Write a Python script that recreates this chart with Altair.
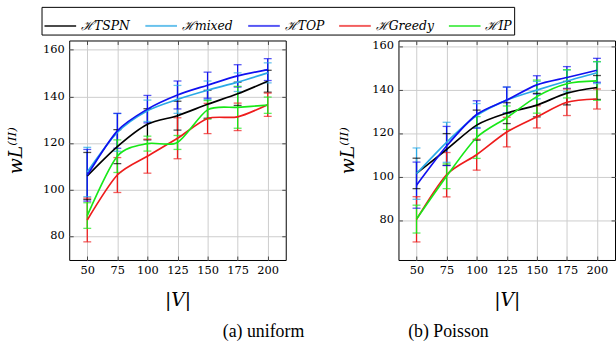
import altair as alt
import pandas as pd

X = [50, 75, 100, 125, 150, 175, 200]
SERIES = ["TSPN", "mixed", "TOP", "Greedy", "IP"]
LABELS = ["ℋTSPN", "ℋmixed", "ℋTOP", "ℋGreedy", "ℋIP"]
COLORS = ["#000000", "#2aa9e6", "#1010f0", "#ee1c1c", "#18e818"]
Y_TICKS = [80, 100, 120, 140, 160]

# (a) uniform: means and error half-widths
uniform_TSPN = [105.8, 118.4, 128.0, 131.7, 136.6, 141.1, 146.5]
uniform_TSPN_err = [10.1, 7.3, 6.7, 6.2, 6.0, 5.0, 4.7]
uniform_mixed = [107.5, 124.5, 133.8, 138.7, 142.6, 146.1, 150.1]
uniform_mixed_err = [10.6, 8.1, 4.6, 6.0, 4.0, 4.0, 4.3]
uniform_TOP = [106.1, 125.2, 134.5, 140.6, 144.8, 148.8, 151.5]
uniform_TOP_err = [11.1, 7.5, 5.9, 6.0, 5.6, 4.8, 4.7]
uniform_Greedy = [86.9, 106.2, 114.3, 122.0, 130.5, 131.2, 136.4]
uniform_Greedy_err = [9.4, 7.5, 7.3, 8.8, 6.5, 5.9, 5.0]
uniform_IP = [88.8, 114.3, 119.7, 120.2, 134.2, 135.3, 136.2]
uniform_IP_err = [5.5, 7.0, 3.2, 3.0, 4.0, 9.0, 3.5]

# (b) Poisson
poisson_TSPN = [101.4, 112.4, 123.6, 129.1, 132.8, 138.3, 140.9]
poisson_TSPN_err = [7.0, 7.3, 6.9, 4.8, 5.4, 5.4, 5.5]
poisson_mixed = [101.3, 115.7, 128.0, 135.1, 139.7, 143.9, 147.7]
poisson_mixed_err = [11.8, 9.2, 5.5, 6.0, 4.0, 5.0, 5.0]
poisson_TOP = [96.0, 114.0, 128.5, 135.1, 142.1, 145.5, 148.8]
poisson_TOP_err = [10.6, 9.0, 6.3, 6.0, 4.2, 5.0, 5.5]
poisson_Greedy = [80.3, 100.8, 110.0, 120.4, 127.4, 134.1, 135.6]
poisson_Greedy_err = [10.4, 10.2, 7.1, 6.8, 5.1, 6.1, 4.6]
poisson_IP = [80.4, 100.1, 117.9, 127.0, 136.7, 142.6, 143.9]
poisson_IP_err = [6.4, 5.7, 9.6, 5.4, 7.6, 6.5, 8.9]

uniform = {
    "TSPN": (uniform_TSPN, uniform_TSPN_err),
    "mixed": (uniform_mixed, uniform_mixed_err),
    "TOP": (uniform_TOP, uniform_TOP_err),
    "Greedy": (uniform_Greedy, uniform_Greedy_err),
    "IP": (uniform_IP, uniform_IP_err),
}
poisson = {
    "TSPN": (poisson_TSPN, poisson_TSPN_err),
    "mixed": (poisson_mixed, poisson_mixed_err),
    "TOP": (poisson_TOP, poisson_TOP_err),
    "Greedy": (poisson_Greedy, poisson_Greedy_err),
    "IP": (poisson_IP, poisson_IP_err),
}


def make_df(d):
    rows = []
    for i, s in enumerate(SERIES):
        vals, errs = d[s]
        for x, v, e in zip(X, vals, errs):
            rows.append({"x": x, "series": LABELS[i], "ord": i, "v": v,
                         "lo": v - e, "hi": v + e})
    return pd.DataFrame(rows)


color = alt.Color(
    "series:N",
    scale=alt.Scale(domain=LABELS, range=COLORS),
    legend=alt.Legend(
        title=None, orient="none", legendX=-28, legendY=-34,
        direction="horizontal", symbolType="stroke", symbolSize=1024,
        symbolStrokeWidth=2, labelFont="DejaVu Serif", labelFontStyle="italic",
        labelFontSize=12.5, labelOffset=4, columnPadding=11,
        strokeColor="#000000", padding=2, cornerRadius=0,
    ),
)

YTITLE = "wL⁽ᴵᴵ⁾"


def panel(df, ydom, title_x, caption, cap_dx):
    xs = alt.Scale(domain=[35, 215], nice=False, zero=False)
    ys = alt.Scale(domain=ydom, nice=False, zero=False)
    base = alt.Chart(df)
    xax = alt.Axis(values=X, title="|V|", grid=True, offset=-4, tickSize=4,
                   domain=False, labelPadding=5, titleY=44, titleBaseline="middle",
                   titleFont="DejaVu Serif", titleFontSize=19, titleFontWeight="normal",
                   titleFontStyle="italic", titleColor="#000000")
    yax = alt.Axis(values=Y_TICKS, title=YTITLE, grid=True, offset=-4, tickSize=4,
                   domain=False, labelPadding=5, titleX=title_x, titleY=111,
                   titleAngle=-90, titleBaseline="middle", titleAlign="center",
                   titleFont="DejaVu Serif", titleFontSize=19, titleFontWeight="normal",
                   titleFontStyle="italic", titleColor="#000000")
    xtop = alt.Axis(values=X, title=None, labels=False, grid=False, orient="top",
                    offset=-4, tickSize=4, domain=False)
    yright = alt.Axis(values=Y_TICKS, title=None, labels=False, grid=False,
                      orient="right", offset=-4, tickSize=4, domain=False)

    rules = base.mark_rule(strokeWidth=1.3).encode(
        x=alt.X("x:Q", scale=xs, axis=xax),
        y=alt.Y("lo:Q", scale=ys, axis=yax),
        y2="hi:Q",
        color=color,
    )
    cap_lo = base.mark_tick(orient="horizontal", size=8, thickness=1.3).encode(
        x=alt.X("x:Q", axis=None), y=alt.Y("lo:Q", axis=None), color=color)
    cap_hi = base.mark_tick(orient="horizontal", size=8, thickness=1.3).encode(
        x=alt.X("x:Q", axis=None), y=alt.Y("hi:Q", axis=None), color=color)
    lines = base.mark_line(interpolate="cardinal", tension=0.2, strokeWidth=1.7).encode(
        x=alt.X("x:Q", axis=None), y=alt.Y("v:Q", axis=None), color=color,
        order="x:Q")
    mirror = base.mark_point(opacity=0).encode(
        x=alt.X("x:Q", axis=xtop), y=alt.Y("v:Q", axis=yright))
    return alt.layer(rules, cap_lo, cap_hi, lines, mirror).resolve_axis(
        x="independent", y="independent"
    ).properties(
        width=219, height=222,
        title=alt.TitleParams(caption, orient="bottom", anchor="middle", frame="group",
                              dx=cap_dx, offset=14, font="Liberation Serif",
                              fontSize=18, fontWeight="normal", color="#000000"),
    )


left = panel(make_df(uniform), [69.7, 164], -58, "(a) uniform", 87)
right = panel(make_df(poisson), [61.6, 162.5], -55, "(b) Poisson", -59)

chart = alt.hconcat(left, right, spacing=114, bounds="flush").properties(
    autosize=alt.AutoSizeParams(type="pad"),
    padding={"left": 6, "top": 4, "right": 0, "bottom": 0},
).configure_view(
    stroke="#000000", strokeWidth=1
).configure_axis(
    gridColor="#cccccc", gridWidth=1, tickColor="#222222", tickWidth=0.8,
    labelFont="DejaVu Serif", labelFontSize=11.5, labelColor="#000000",
)

chart.save("out.html", embed_options={"renderer": "svg", "actions": False})
